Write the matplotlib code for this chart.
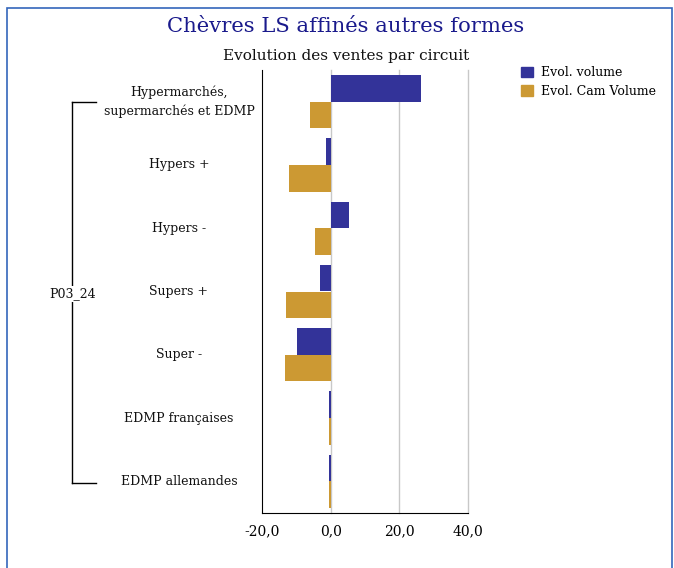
import matplotlib
matplotlib.use("Agg")
import matplotlib.pyplot as plt
from matplotlib.patches import Rectangle
from matplotlib.lines import Line2D
import numpy as np

categories = ["Hypermarchés,\nsupermarchés et EDMP", "Hypers +", "Hypers -",
              "Supers +", "Super -", "EDMP françaises", "EDMP allemandes"]
evol_volume = [26.2, -1.5, 5.2, -3.2, -9.9, -0.4, -0.4]
evol_cam_volume = [-6.1, -12.2, -4.7, -13.1, -13.4, -0.4, -0.4]
group_label = "P03_24"
xticks = [-20, 0, 20, 40]
series_names = ["Evol. volume", "Evol. Cam Volume"]

BLUE = "#333399"
GOLD = "#CC9933"
W, H = 674, 568
FONT = "DejaVu Serif"

fig = plt.figure(figsize=(W / 100, H / 100), dpi=100)

def fx(px):
    return px / W

def fy(py):
    return 1 - py / H

# outer blue frame
fig.patches.append(Rectangle((fx(7), fy(600)), fx(672) - fx(7), fy(8) - fy(600),
                             transform=fig.transFigure, fill=False,
                             edgecolor="#3366bb", linewidth=1.2))

fig.text(fx(346), fy(27), "Chèvres LS affinés autres formes", ha="center", va="center",
         fontsize=15.2, color="#1a1a8c", family=FONT)
fig.text(fx(346), fy(56), "Evolution des ventes par circuit", ha="center", va="center",
         fontsize=11, color="#111111", family=FONT)

ax = fig.add_axes([fx(262), fy(513), fx(468) - fx(262), fy(70) - fy(513)])
n = len(categories)
y = np.arange(n)
h = 0.42
ax.barh(y - h / 2, evol_volume, height=h, color=BLUE, label=series_names[0], zorder=3)
ax.barh(y + h / 2, evol_cam_volume, height=h, color=GOLD, label=series_names[1], zorder=3)
ax.set_ylim(n - 0.5, -0.5)
ax.set_xlim(-20, 40)
ax.set_xticks(xticks)
ax.set_xticklabels([f"{v:.1f}".replace(".", ",") for v in xticks], family=FONT, fontsize=10)
ax.set_yticks([])
ax.tick_params(axis="x", length=0, pad=8)
for v in xticks[1:]:
    ax.axvline(v, color="#c8c8c8", linewidth=1, zorder=1, clip_on=False)
for s in ["top", "right"]:
    ax.spines[s].set_visible(False)
ax.spines["left"].set_color("black")
ax.spines["bottom"].set_color("black")
ax.spines["bottom"].set_zorder(4)

# category labels
for i, c in enumerate(categories):
    ax.text(-0.403, i, c, transform=ax.get_yaxis_transform(), ha="center", va="center",
            fontsize=9, family=FONT, color="#111111", linespacing=1.45)

# bracket and group label
fig.add_artist(Line2D([fx(72), fx(72)], [fy(102), fy(483)], color="black", lw=1))
fig.add_artist(Line2D([fx(72), fx(96)], [fy(102), fy(102)], color="black", lw=1))
fig.add_artist(Line2D([fx(72), fx(96)], [fy(483), fy(483)], color="black", lw=1))
fig.text(fx(73), fy(294), group_label, ha="center", va="center", fontsize=9,
         family=FONT, color="#111111",
         bbox=dict(facecolor="white", edgecolor="none", pad=1))

# legend
handles = [Rectangle((0, 0), 1, 1, color=BLUE), Rectangle((0, 0), 1, 1, color=GOLD)]
fig.legend(handles, series_names, loc="upper left", bbox_to_anchor=(fx(515), fy(60)),
           frameon=False, prop={"family": FONT, "size": 9}, handlelength=0.95,
           handleheight=0.95, handletextpad=0.6, labelspacing=0.45, borderpad=0)

fig.savefig("out.png", dpi=100)
